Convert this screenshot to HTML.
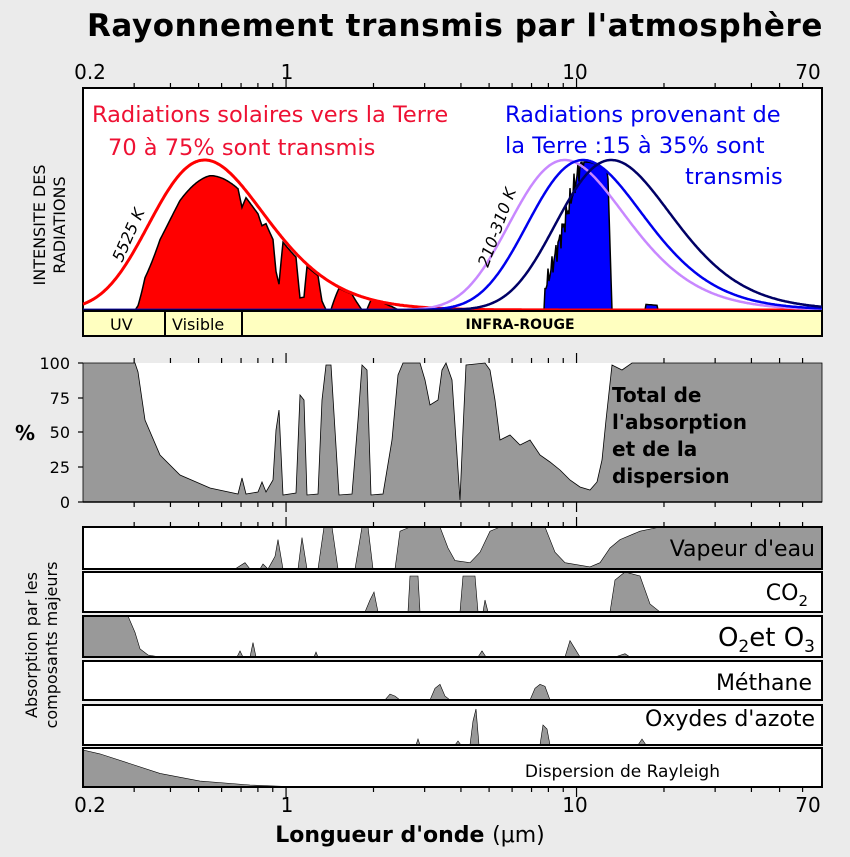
<!DOCTYPE html>
<html><head><meta charset="utf-8">
<style>
html,body{margin:0;padding:0;background:#ebebeb;}
svg{display:block;font-family:"DejaVu Sans","Liberation Sans",sans-serif;}
</style></head>
<body>
<svg id="s" width="850" height="857" viewBox="0 0 850 857" xmlns="http://www.w3.org/2000/svg">
<rect width="850" height="857" fill="#ebebeb"/>
<text x="455" y="36" font-size="31" font-weight="bold" text-anchor="middle" letter-spacing="0.6">Rayonnement transmis par l'atmosphère</text>
<g font-size="20" text-anchor="middle">
<text x="90" y="79">0.2</text><text x="287" y="79">1</text><text x="575" y="79">10</text><text x="808" y="79">70</text>
<text x="90" y="812">0.2</text><text x="287" y="812">1</text><text x="575" y="812">10</text><text x="808" y="812">70</text>
</g>
<text x="410" y="842" font-size="22" font-weight="bold" text-anchor="middle">Longueur d'onde <tspan font-weight="normal">(μm)</tspan></text>
<g id="top"></g>
<g id="mid"></g>
<g id="small"></g>
<g id="ticks" stroke="#000" stroke-width="1.2"></g>
<rect x="83" y="311" width="739" height="25" fill="#ffffc0" stroke="#000" stroke-width="2"/>
<line x1="165" y1="311" x2="165" y2="336" stroke="#000" stroke-width="2"/>
<line x1="242" y1="311" x2="242" y2="336" stroke="#000" stroke-width="2"/>
<text x="110" y="330" font-size="16">UV</text>
<text x="172" y="330" font-size="16">Visible</text>
<text x="520" y="329" font-size="14" font-weight="bold" text-anchor="middle">INFRA-ROUGE</text>
<text x="92" y="122" font-size="22.5" fill="#ee1133">Radiations solaires vers la Terre</text>
<text x="108" y="155" font-size="22.5" fill="#ee1133">70 à 75% sont transmis</text>
<text x="505" y="122" font-size="22.5" fill="#0000ee">Radiations provenant de</text>
<text x="505" y="153" font-size="22.5" fill="#0000ee">la Terre :15 à 35% sont</text>
<text x="685" y="184" font-size="22.5" fill="#0000ee">transmis</text>
<text transform="translate(122,263) rotate(-66)" font-size="16" font-style="italic">5525 K</text>
<text transform="translate(488,268) rotate(-70)" font-size="16" font-style="italic">210-310 K</text>
<text transform="translate(45,225) rotate(-90)" font-size="16" text-anchor="middle">INTENSITE DES</text>
<text transform="translate(65,225) rotate(-90)" font-size="16" text-anchor="middle">RADIATIONS</text>
<text x="15" y="440" font-size="20" font-weight="bold">%</text>
<g font-size="16" text-anchor="end">
<text x="70" y="369">100</text><text x="70" y="404">75</text><text x="70" y="438">50</text><text x="70" y="473">25</text><text x="70" y="508">0</text>
</g>
<g font-size="20" font-weight="bold">
<text x="612" y="402">Total de</text><text x="612" y="429">l'absorption</text><text x="612" y="456">et de la</text><text x="612" y="483">dispersion</text>
</g>
<text transform="translate(37,645) rotate(-90)" font-size="16" text-anchor="middle">Absorption par les</text>
<text transform="translate(57,645) rotate(-90)" font-size="16" text-anchor="middle">composants majeurs</text>
<g font-size="22" text-anchor="end">
<text x="815" y="556">Vapeur d'eau</text>
<text x="808" y="600">CO<tspan font-size="15" dy="6">2</tspan></text>
<text x="815" y="646" font-size="26">O<tspan font-size="17" dy="6">2</tspan><tspan dy="-6">et O</tspan><tspan font-size="17" dy="6">3</tspan></text>
<text x="812" y="690">Méthane</text>
<text x="815" y="726">Oxydes d'azote</text>
<text x="720" y="777" font-size="17">Dispersion de Rayleigh</text>
</g>
</svg>
<script>
const NS="http://www.w3.org/2000/svg";
function el(p,t,a){const e=document.createElementNS(NS,t);for(const k in a)e.setAttribute(k,a[k]);document.getElementById(p).appendChild(e);return e;}
function lam(x){return Math.pow(10,(x-83)/739*2.544-0.699);}
function lx(l){return 83+(Math.log10(l)+0.699)/2.544*739;}
function planck(l,T){const c=14388,lp=2898/T;const f=v=>Math.pow(v,-5)/(Math.exp(c/(v*T))-1);return f(l)/f(lp);}
function interp(pts,x){for(let i=1;i<pts.length;i++){if(x<=pts[i][0]){const a=pts[i-1],b=pts[i];const t=(x-a[0])/((b[0]-a[0])||1);return a[1]+t*(b[1]-a[1]);}}return pts[pts.length-1][1];}
const tot=[[83,363],[135,363],[138,372],[145,420],[160,455],[180,475],[210,488],[238,494],[242,478],[246,494],[258,492],[262,482],[266,492],[273,480],[276,430],[279,410],[283,495],[296,493],[300,395],[304,400],[307,495],[318,494],[322,400],[326,365],[331,365],[335,430],[339,495],[352,494],[358,420],[362,365],[367,370],[371,495],[383,494],[392,440],[398,375],[403,363],[420,363],[425,380],[430,405],[438,400],[442,370],[446,363],[452,380],[456,440],[460,500],[463,430],[466,365],[485,363],[490,370],[495,400],[500,440],[510,435],[520,445],[530,440],[540,455],[550,462],[560,470],[570,480],[580,487],[590,490],[597,482],[602,460],[606,420],[612,365],[622,370],[632,363],[822,363]];
function T(x){return Math.max(0,Math.min(1,(interp(tot,x)-363)/139));}
el("mid","rect",{x:83,y:363,width:739,height:139,fill:"#fff",stroke:"none"});
let d="M83,502";for(const p of tot)d+=" L"+p[0]+","+p[1];d+=" L822,502 Z";
el("mid","path",{d:d,fill:"#999",stroke:"#000","stroke-width":0.8});
el("mid","line",{x1:83,y1:502,x2:822,y2:502,stroke:"#000","stroke-width":1.5});
el("top","rect",{x:83,y:88,width:739,height:223,fill:"#fff",stroke:"#000","stroke-width":2});
function earthT(x){
 if(x<545)return 0;
 if(x>=612&&x<=645)return 0; if(x>645&&x<658)return 0.06; if(x>=658)return 0;
 if(x>=608)return 0.95*(612-x)/4;
 const noise=0.06*Math.sin(x*1.7)+0.04*Math.sin(x*3.1);
 return Math.max(0,Math.min(1,0.2+(x-545)/35*0.78+noise));}
let rf="M83,310",bf="M470,310",bl="M83,310";
for(let x=83;x<=822;x++){const l=lam(x),t=T(x);const hs=150*planck(l,5525)*t, he=148*planck(l,270)*earthT(x);
 if(x<=470) rf+=" L"+x+","+(310-hs).toFixed(1); if(x>=470) bf+=" L"+x+","+(310-he).toFixed(1);
 bl+=" L"+x+","+(310-Math.max(hs,he)).toFixed(1);}
rf+=" L470,310 Z";bf+=" L822,310 Z";
el("top","path",{d:rf,fill:"#ff0000"});el("top","path",{d:bf,fill:"#0000ff"});
el("top","path",{d:bl,fill:"none",stroke:"#000","stroke-width":1.5});
function curve(Tk,col,sw){let s="";for(let x=83;x<=822;x++){const y=310-150*planck(lam(x),Tk);s+=(x==83?"M":" L")+x+","+y.toFixed(1);}el("top","path",{d:s,fill:"none",stroke:col,"stroke-width":sw});}
curve(5525,"#ff0000",3);curve(318,"#c888ff",2.5);curve(275,"#0000ee",2.5);curve(220,"#000066",2.5);
const panels=[
[527,569,[[83,0],[235,0],[245,.15],[250,0],[260,0],[263,.12],[268,0],[275,.3],[278,.7],[283,0],[298,0],[302,.75],[307,0],[318,0],[324,1],[332,1],[338,0],[355,0],[362,1],[368,1],[373,0],[395,0],[400,.9],[410,1],[440,1],[448,.5],[455,.2],[470,.15],[480,.4],[490,.9],[500,1],[545,1],[555,.4],[565,.15],[590,.05],[600,.15],[610,.5],[620,.7],[640,.9],[660,1],[822,1]]],
[572,612,[[83,0],[365,0],[370,.3],[374,.5],[378,0],[408,0],[410,.9],[418,.9],[420,0],[460,0],[463,.9],[475,.9],[478,0],[483,0],[485,.3],[488,0],[610,0],[615,.8],[625,1],[640,.9],[650,.2],[660,0],[822,0]]],
[616,657,[[83,1],[128,1],[135,.6],[140,.2],[148,.05],[160,0],[237,0],[240,.15],[243,0],[250,0],[253,.35],[256,0],[314,0],[316,.12],[318,0],[478,0],[482,.15],[486,0],[565,0],[570,.4],[575,.2],[580,0],[615,0],[625,.08],[630,0],[822,0]]],
[661,700,[[83,0],[385,0],[390,.15],[395,.1],[400,0],[430,0],[435,.3],[440,.4],[445,.1],[450,0],[530,0],[535,.3],[540,.4],[545,.35],[550,0],[822,0]]],
[705,745,[[83,0],[416,0],[418,.15],[420,0],[455,0],[458,.1],[461,0],[470,0],[473,.6],[476,.9],[479,0],[540,0],[543,.5],[547,.4],[550,0],[638,0],[642,.15],[646,0],[822,0]]],
[748,787,[[83,.95],[100,.85],[130,.6],[160,.35],[200,.15],[250,.05],[300,0],[822,0]]]];
for(const [t,b,pts] of panels){const h=b-t;
 el("small","rect",{x:83,y:t,width:739,height:h,fill:"#fff"});
 let s="M83,"+b;for(const p of pts)s+=" L"+p[0]+","+(b-p[1]*h).toFixed(1);s+=" L822,"+b+" Z";
 el("small","path",{d:s,fill:"#999",stroke:"#000","stroke-width":0.6});
 el("small","rect",{x:83,y:t,width:739,height:h,fill:"none",stroke:"#000","stroke-width":2});}
const minors=[0.3,0.4,0.5,0.6,0.7,0.8,0.9,2,3,4,5,6,7,8,9,20,30,40,50,60];
function ticks(y,dir){for(const m of minors){const x=lx(m);el("ticks","line",{x1:x,y1:y,x2:x,y2:y+dir*5});}
 for(const m of [1,10]){const x=lx(m);el("ticks","line",{x1:x,y1:y,x2:x,y2:y+dir*10});}}
ticks(88,-1);ticks(311,1);ticks(363,-1);ticks(502,1);ticks(527,-1);ticks(787,1);
for(const y of [363,398,432,467,502])el("ticks","line",{x1:78,y1:y,x2:83,y2:y});
</script>
</body></html>
